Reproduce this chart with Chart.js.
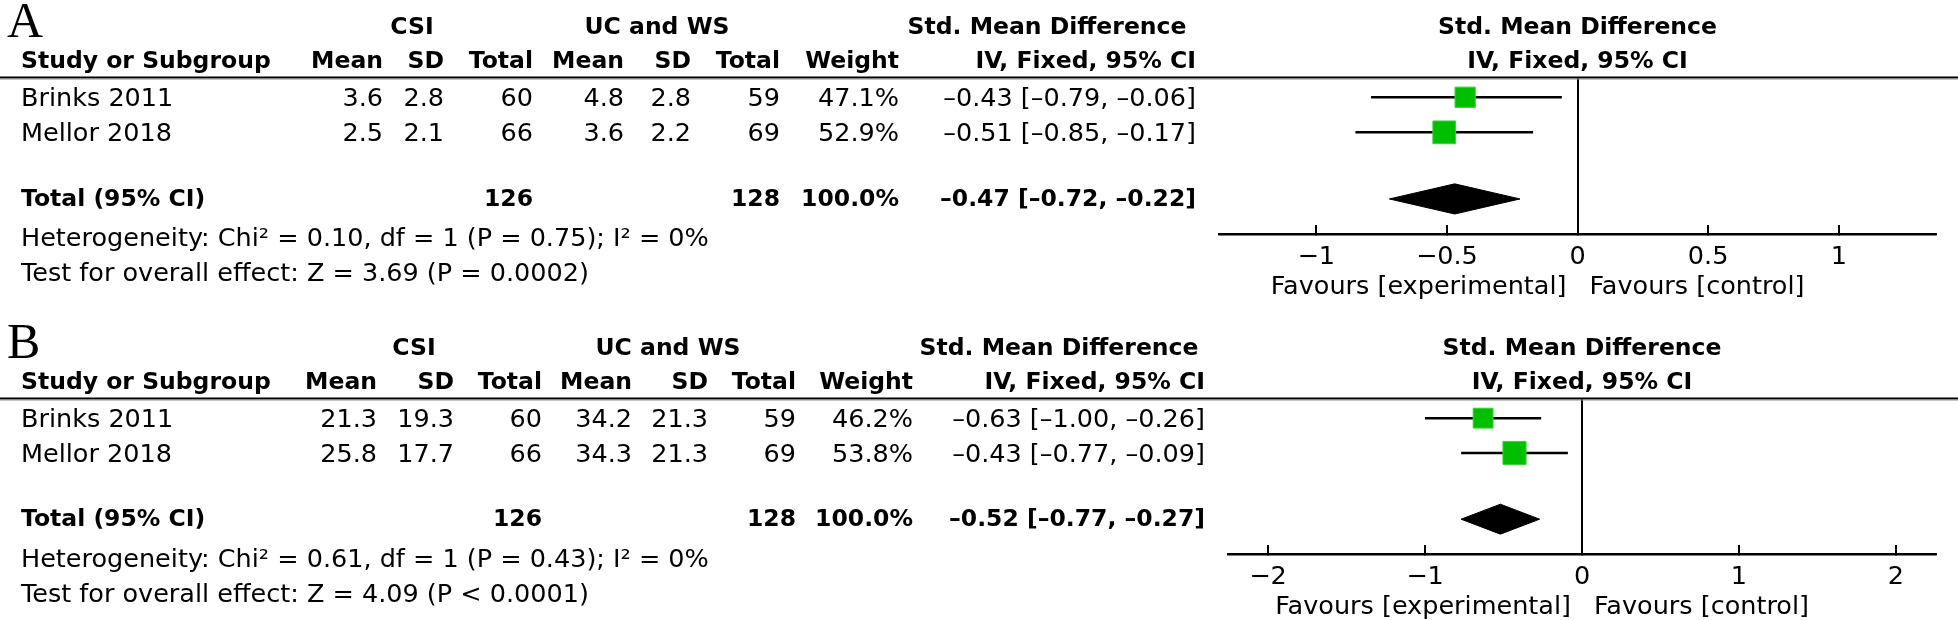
<!DOCTYPE html>
<html>
<head>
<meta charset="utf-8">
<script src="https://cdn.jsdelivr.net/npm/chart.js@4.4.1/dist/chart.umd.min.js"></script>
<style>
  html, body { margin: 0; padding: 0; background: #fff; overflow: hidden; }
  canvas { display: block; }
</style>
</head>
<body>
<canvas id="chartA" width="1958" height="310"></canvas>
<canvas id="chartB" width="1958" height="310"></canvas>
<script>
// ---- data ----
const studies = ["Brinks 2011", "Mellor 2018"];
const rowPos = [1, 2];      // row index of each study
const totalRow = 3.9;       // row index of the pooled estimate

// panel A
const csiMeanA = [3.6, 2.5];
const csiSdA = [2.8, 2.1];
const csiNA = [60, 66];
const ucMeanA = [4.8, 3.6];
const ucSdA = [2.8, 2.2];
const ucNA = [59, 69];
const weightA = [47.1, 52.9];
const smdA = [-0.43, -0.51];
const lowA = [-0.79, -0.85];
const highA = [-0.06, -0.17];
const totalA = [-0.47, -0.72, -0.22];   // smd, low, high
const hetA = ["0.10", "1", "= 0.75", "0"];   // chi2, df, P, I2
const testA = ["3.69", "= 0.0002"];
const ticksA = [-1, -0.5, 0, 0.5, 1];
const tickLabelsA = ["\u22121", "\u22120.5", "0", "0.5", "1"];

// panel B
const csiMeanB = [21.3, 25.8];
const csiSdB = [19.3, 17.7];
const csiNB = [60, 66];
const ucMeanB = [34.2, 34.3];
const ucSdB = [21.3, 21.3];
const ucNB = [59, 69];
const weightB = [46.2, 53.8];
const smdB = [-0.63, -0.43];
const lowB = [-1.00, -0.77];
const highB = [-0.26, -0.09];
const totalB = [-0.52, -0.77, -0.27];
const hetB = ["0.61", "1", "= 0.43", "0"];
const testB = ["4.09", "< 0.0001"];
const ticksB = [-2, -1, 0, 1, 2];
const tickLabelsB = ["\u22122", "\u22121", "0", "1", "2"];

// ---- layout / style ----
const FONT = '"DejaVu Sans", sans-serif';
const REG = "25.5px " + FONT;
const BOLD = "bold 23.5px " + FONT;
const GREEN = "#00bf00";
const DIAMOND_H = 0.43;   // half height of the diamond, in rows

const layoutA = {
  letter: "A", top: 78, axisY: 234, xRange: 1.372, left: 1219, right: 1936,
  cols: { study: 21, csiMean: 383, csiSd: 444, csiN: 533, ucMean: 624, ucSd: 691, ucN: 780,
          weight: 899, ci: 1196, csiHead: 412, ucHead: 657, smdHead: 1047 }
};
const layoutB = {
  letter: "B", top: 89, axisY: 244, xRange: 2.255, left: 1228, right: 1936,
  cols: { study: 21, csiMean: 377, csiSd: 454, csiN: 542, ucMean: 632, ucSd: 708, ucN: 796,
          weight: 913, ci: 1205, csiHead: 414, ucHead: 668, smdHead: 1059 }
};

const dash = v => (v < 0 ? "\u2013" : "") + Math.abs(v).toFixed(2);
const ciText = (m, lo, hi) => dash(m) + " [" + dash(lo) + ", " + dash(hi) + "]";
const sum = a => a.reduce((s, v) => s + v, 0);

function tablePlugin(d, lay) {
  return {
    id: "forestTable",
    afterDraw(chart) {
      const { ctx, chartArea, scales } = chart;
      const top = chartArea.top, c = lay.cols;
      const zx = scales.x.getPixelForValue(0);
      const txt = (s, x, y, align, font) => {
        ctx.font = font; ctx.textAlign = align; ctx.fillText(s, x, y);
      };
      ctx.save();
      // rule under the header
      ctx.fillStyle = "#000";
      ctx.fillRect(0, top - 1.5, chart.width, 2);
      ctx.fillStyle = "#8a8a8a";
      ctx.fillRect(0, top + 0.5, chart.width, 1);

      ctx.fillStyle = "#000";
      ctx.textBaseline = "alphabetic";
      txt(lay.letter, 7, top - 41, "left", '50px "Liberation Serif", serif');

      ctx.textBaseline = "middle";
      let y = top - 50;
      txt("CSI", c.csiHead, y, "center", BOLD);
      txt("UC and WS", c.ucHead, y, "center", BOLD);
      txt("Std. Mean Difference", c.smdHead, y, "center", BOLD);
      txt("Std. Mean Difference", zx, y, "center", BOLD);
      y = top - 16;
      txt("Study or Subgroup", c.study, y, "left", BOLD);
      txt("Mean", c.csiMean, y, "right", BOLD);
      txt("SD", c.csiSd, y, "right", BOLD);
      txt("Total", c.csiN, y, "right", BOLD);
      txt("Mean", c.ucMean, y, "right", BOLD);
      txt("SD", c.ucSd, y, "right", BOLD);
      txt("Total", c.ucN, y, "right", BOLD);
      txt("Weight", c.weight, y, "right", BOLD);
      txt("IV, Fixed, 95% CI", c.ci, y, "right", BOLD);
      txt("IV, Fixed, 95% CI", zx, y, "center", BOLD);

      studies.forEach((s, i) => {
        const ry = scales.y.getPixelForValue(rowPos[i]) + 2.5;
        txt(s, c.study, ry, "left", REG);
        txt(d.csiMean[i].toFixed(1), c.csiMean, ry, "right", REG);
        txt(d.csiSd[i].toFixed(1), c.csiSd, ry, "right", REG);
        txt(String(d.csiN[i]), c.csiN, ry, "right", REG);
        txt(d.ucMean[i].toFixed(1), c.ucMean, ry, "right", REG);
        txt(d.ucSd[i].toFixed(1), c.ucSd, ry, "right", REG);
        txt(String(d.ucN[i]), c.ucN, ry, "right", REG);
        txt(d.weight[i].toFixed(1) + "%", c.weight, ry, "right", REG);
        txt(ciText(d.smd[i], d.low[i], d.high[i]), c.ci, ry, "right", REG);
      });

      const ty = scales.y.getPixelForValue(totalRow) + 0.5;
      txt("Total (95% CI)", c.study, ty, "left", BOLD);
      txt(String(sum(d.csiN)), c.csiN, ty, "right", BOLD);
      txt(String(sum(d.ucN)), c.ucN, ty, "right", BOLD);
      txt(sum(d.weight).toFixed(1) + "%", c.weight, ty, "right", BOLD);
      txt(ciText(d.total[0], d.total[1], d.total[2]), c.ci, ty, "right", BOLD);

      txt("Heterogeneity: Chi\u00b2 = " + d.het[0] + ", df = " + d.het[1] + " (P " + d.het[2] +
          "); I\u00b2 = " + d.het[3] + "%", c.study, top + 161, "left", REG);
      txt("Test for overall effect: Z = " + d.test[0] + " (P " + d.test[1] + ")",
          c.study, top + 196, "left", REG);

      const fy = chartArea.bottom + 53;
      txt("Favours [experimental]", zx - 11, fy, "right", REG);
      txt("Favours [control]", zx + 12, fy, "left", REG);
      ctx.restore();
    }
  };
}

function makePanel(id, d, lay) {
  const ciLines = d.low.map((lo, i) => ({
    data: [{ x: lo, y: rowPos[i] }, { x: d.high[i], y: rowPos[i] }],
    borderColor: "#000", borderWidth: 2.5, pointRadius: 0, order: 2
  }));
  const squares = {
    data: d.smd.map((v, i) => ({ x: v, y: rowPos[i] })),
    showLine: false,
    pointStyle: "rect",
    pointRadius: d.weight.map(w => w * 0.43 / Math.SQRT2),
    backgroundColor: GREEN, borderColor: "#3ad23a", borderWidth: 1, order: 1
  };
  const [tm, tl, th] = d.total;
  const diamond = {
    data: [
      { x: tl, y: totalRow }, { x: tm, y: totalRow - DIAMOND_H },
      { x: th, y: totalRow }, { x: tm, y: totalRow + DIAMOND_H }, { x: tl, y: totalRow }
    ],
    borderColor: "#000", backgroundColor: "#000", borderWidth: 1,
    pointRadius: 0, fill: "shape", tension: 0, order: 0
  };

  const ticks = d.ticks, labels = d.tickLabels;
  return new Chart(document.getElementById(id), {
    type: "line",
    data: { datasets: [...ciLines, squares, diamond] },
    options: {
      responsive: false,
      devicePixelRatio: 1,
      animation: false,
      events: [],
      layout: { padding: { left: lay.left, right: 1958 - lay.right, top: lay.top, bottom: 310 - lay.axisY - 40 } },
      plugins: { legend: { display: false }, tooltip: { enabled: false } },
      scales: {
        x: {
          type: "linear",
          min: -lay.xRange, max: lay.xRange,
          afterBuildTicks: s => { s.ticks = ticks.map(v => ({ value: v })); },
          afterFit: s => { s.height = 40; },
          border: { display: true, color: "#000", width: 2.5 },
          grid: {
            drawOnChartArea: true,
            color: c => (c.tick && c.tick.value === 0 ? "#000" : "rgba(0,0,0,0)"),
            lineWidth: 2,
            drawTicks: true,
            tickLength: -9,
            tickColor: "#000",
            tickWidth: 2
          },
          ticks: {
            color: "#000",
            font: { family: '"DejaVu Sans", sans-serif', size: 25.5 },
            padding: 17.5,
            maxRotation: 0,
            autoSkip: false,
            callback: (v, i) => labels[i]
          }
        },
        y: {
          type: "linear",
          display: false,
          reverse: true,
          min: 0.45, max: 4.9
        }
      }
    },
    plugins: [tablePlugin(d, lay)]
  });
}

makePanel("chartA", {
  csiMean: csiMeanA, csiSd: csiSdA, csiN: csiNA, ucMean: ucMeanA, ucSd: ucSdA, ucN: ucNA,
  weight: weightA, smd: smdA, low: lowA, high: highA, total: totalA,
  het: hetA, test: testA, ticks: ticksA, tickLabels: tickLabelsA
}, layoutA);

makePanel("chartB", {
  csiMean: csiMeanB, csiSd: csiSdB, csiN: csiNB, ucMean: ucMeanB, ucSd: ucSdB, ucN: ucNB,
  weight: weightB, smd: smdB, low: lowB, high: highB, total: totalB,
  het: hetB, test: testB, ticks: ticksB, tickLabels: tickLabelsB
}, layoutB);
</script>
</body>
</html>
